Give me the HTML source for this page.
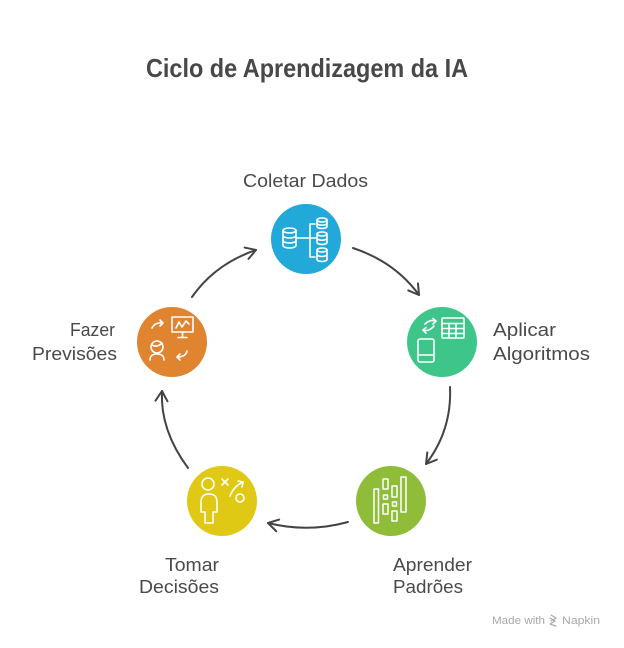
<!DOCTYPE html>
<html>
<head>
<meta charset="utf-8">
<style>
  html, body { margin: 0; padding: 0; background: #ffffff; }
  body { width: 624px; height: 648px; overflow: hidden; }
  svg { display: block; }
  .lbl { font-family: "Liberation Sans", sans-serif; font-size: 18.5px; fill: #4a4a4a; }
</style>
</head>
<body>
<svg width="624" height="648" viewBox="0 0 624 648" xmlns="http://www.w3.org/2000/svg">
  <defs>
    <marker id="ah" markerWidth="14" markerHeight="14" refX="0" refY="0" viewBox="-12 -7 14 14" orient="auto" markerUnits="userSpaceOnUse">
      <path d="M-10,-6 L0,0 L-10,6" fill="none" stroke="#444" stroke-width="2" stroke-linecap="round" stroke-linejoin="round"/>
    </marker>
  </defs>

  <!-- Title -->
  <text x="146" y="77" font-family="Liberation Sans, sans-serif" font-weight="bold" font-size="26" fill="#484848" textLength="322" lengthAdjust="spacingAndGlyphs">Ciclo de Aprendizagem da IA</text>

  <!-- Connectors -->
  <g fill="none" stroke="#444" stroke-width="2" stroke-linecap="round">
    <path d="M192 297 Q 215 264 256 250" marker-end="url(#ah)"/>
    <path d="M353 248 Q 395 262 419 295" marker-end="url(#ah)"/>
    <path d="M450 387 Q 452 430 426 464" marker-end="url(#ah)"/>
    <path d="M348 522 Q 308 533 268 523" marker-end="url(#ah)"/>
    <path d="M188 468 Q 160 430 162 391" marker-end="url(#ah)"/>
  </g>

  <!-- Circles -->
  <circle cx="306" cy="239" r="35" fill="#22a9da"/>
  <circle cx="442" cy="342" r="35" fill="#3ec68a"/>
  <circle cx="391" cy="501" r="35" fill="#8fbd3a"/>
  <circle cx="222" cy="501" r="35" fill="#dfc915"/>
  <circle cx="172" cy="342" r="35" fill="#e08430"/>

  <!-- Icon: Coletar Dados -->
  <g fill="none" stroke="#fff" stroke-width="1.6" stroke-linecap="round" stroke-linejoin="round">
    <ellipse cx="289.5" cy="230.5" rx="6.5" ry="2.5"/>
    <path d="M283 230.5 V245.5 A6.5 2.5 0 0 0 296 245.5 V230.5"/>
    <path d="M283 235.5 A6.5 2.5 0 0 0 296 235.5"/>
    <path d="M283 240.5 A6.5 2.5 0 0 0 296 240.5"/>
    <path d="M297 238 H310"/>
    <path d="M315 224 H310 V257 H315"/>
    <path d="M310 238 H316"/>
    <ellipse cx="322" cy="220" rx="5" ry="2"/>
    <path d="M317 220 V226.5 A5 2 0 0 0 327 226.5 V220"/>
    <path d="M317 223.2 A5 2 0 0 0 327 223.2"/>
    <ellipse cx="322" cy="234" rx="5" ry="2"/>
    <path d="M317 234 V242.5 A5 2 0 0 0 327 242.5 V234"/>
    <path d="M317 238.2 A5 2 0 0 0 327 238.2"/>
    <ellipse cx="322" cy="250" rx="5" ry="2"/>
    <path d="M317 250 V259.5 A5 2 0 0 0 327 259.5 V250"/>
    <path d="M317 254.5 A5 2 0 0 0 327 254.5"/>
  </g>

  <!-- Icon: Aplicar Algoritmos -->
  <g fill="none" stroke="#fff" stroke-width="1.6" stroke-linecap="round" stroke-linejoin="round">
    <rect x="442" y="318" width="22" height="20" rx="1"/>
    <path d="M442 323.5 H464 M442 328.5 H464 M442 333.5 H464"/>
    <path d="M449 323.5 V338 M456 323.5 V338"/>
    <rect x="418" y="339" width="16" height="23" rx="2"/>
    <path d="M418 355 H434"/>
    <path d="M425 324 Q 430 319 436 321"/>
    <path d="M433 318.5 L436 321 L433 324"/>
    <path d="M434 326 Q 429 332 423 330"/>
    <path d="M426 327.5 L423 330 L426 333"/>
  </g>

  <!-- Icon: Aprender Padrões -->
  <g fill="none" stroke="#fff" stroke-width="1.5" stroke-linejoin="round">
    <rect x="374" y="489" width="4.5" height="34"/>
    <rect x="383" y="479" width="5" height="10"/>
    <rect x="383.5" y="495" width="4" height="4"/>
    <rect x="383" y="504" width="5" height="10"/>
    <rect x="392" y="486" width="5" height="11"/>
    <rect x="392.5" y="502" width="4" height="4"/>
    <rect x="392" y="511" width="5" height="10"/>
    <rect x="401" y="477" width="5" height="35"/>
  </g>

  <!-- Icon: Tomar Decisões -->
  <g fill="none" stroke="#fff" stroke-width="1.6" stroke-linecap="round" stroke-linejoin="round">
    <circle cx="208" cy="484" r="6"/>
    <path d="M205 523 V512 H201 V502 Q201 494 209 494 Q217 494 217 502 V512 H213 V523 Z"/>
    <path d="M222 479 L228 485 M228 479 L222 485"/>
    <path d="M230 496 Q 234 486 243 482"/>
    <path d="M238 481 L243 482 L242 487"/>
    <circle cx="240" cy="498" r="4"/>
  </g>

  <!-- Icon: Fazer Previsões -->
  <g fill="none" stroke="#fff" stroke-width="1.6" stroke-linecap="round" stroke-linejoin="round">
    <rect x="172" y="317" width="21" height="15"/>
    <path d="M176 328 L179 322 L182 327 L186 321 L189 324"/>
    <path d="M182.5 332 V337 M178 337.5 H187"/>
    <path d="M152 328 Q 155 322 163 323"/>
    <path d="M160 320 L163 323 L160 326"/>
    <circle cx="157" cy="347" r="6"/>
    <path d="M152 345 Q 157 348 162 343"/>
    <path d="M150 360 Q 150 354 157 354 Q 164 354 164 360"/>
    <path d="M187 351 Q 186 357 177 357"/>
    <path d="M180 354 L177 357 L180 360"/>
  </g>

  <!-- Labels -->
  <text class="lbl" x="243" y="187" textLength="125" lengthAdjust="spacingAndGlyphs">Coletar Dados</text>

  <text class="lbl" x="70" y="336" textLength="45" lengthAdjust="spacingAndGlyphs">Fazer</text>
  <text class="lbl" x="32" y="360" textLength="85" lengthAdjust="spacingAndGlyphs">Previsões</text>

  <text class="lbl" x="493" y="336" textLength="63" lengthAdjust="spacingAndGlyphs">Aplicar</text>
  <text class="lbl" x="493" y="360" textLength="97" lengthAdjust="spacingAndGlyphs">Algoritmos</text>

  <text class="lbl" x="165" y="571" textLength="54" lengthAdjust="spacingAndGlyphs">Tomar</text>
  <text class="lbl" x="139" y="593" textLength="80" lengthAdjust="spacingAndGlyphs">Decisões</text>

  <text class="lbl" x="393" y="571" textLength="79" lengthAdjust="spacingAndGlyphs">Aprender</text>
  <text class="lbl" x="393" y="593" textLength="70" lengthAdjust="spacingAndGlyphs">Padrões</text>

  <!-- Footer -->
  <text x="492" y="624" font-family="Liberation Sans, sans-serif" font-size="11" fill="#a8a8a8" textLength="53" lengthAdjust="spacingAndGlyphs">Made with</text>
  <g fill="none" stroke="#a8a8a8" stroke-width="1.2" stroke-linecap="round">
    <path d="M551 615 L556 618 L551 621"/>
    <path d="M550 618 L555 621 L550 624"/>
    <path d="M551 624.5 L556 626"/>
  </g>
  <text x="562" y="624" font-family="Liberation Sans, sans-serif" font-size="11" fill="#a8a8a8" textLength="38" lengthAdjust="spacingAndGlyphs">Napkin</text>
</svg>
</body>
</html>
